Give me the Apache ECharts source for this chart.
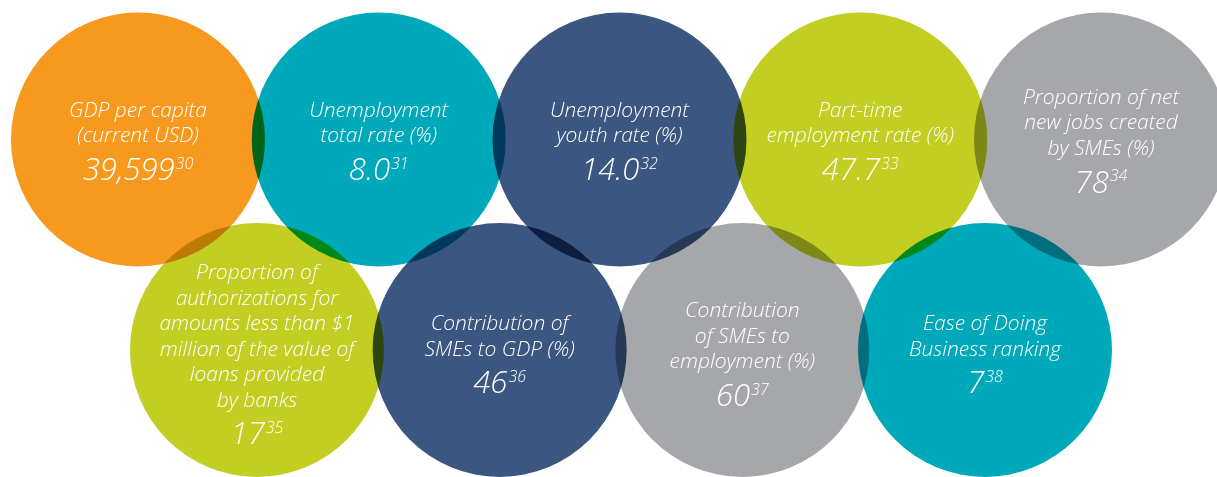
<!DOCTYPE html>
<html>
<head>
<meta charset="utf-8">
<script src="https://cdn.jsdelivr.net/npm/echarts@6/dist/echarts.min.js"></script>
<style>
html,body{margin:0;padding:0;background:#ffffff;}
#chart{width:1217px;height:477px;}
</style>
</head>
<body>
<div id="chart"></div>
<script>
// ---- data ----
const indicators = [
  "GDP per capita\n(current USD)",
  "Unemployment\ntotal rate (%)",
  "Unemployment\nyouth rate (%)",
  "Part-time\nemployment rate (%)",
  "Proportion of net\nnew jobs created\nby SMEs (%)",
  "Proportion of\nauthorizations for\namounts less than $1\nmillion of the value of\nloans provided\nby banks",
  "Contribution of\nSMEs to GDP (%)",
  "Contribution\nof SMEs to\nemployment (%)",
  "Ease of Doing\nBusiness ranking"
];
const values = ["39,599", "8.0", "14.0", "47.7", "78", "17", "46", "60", "7"];
const footnotes = ["30", "31", "32", "33", "34", "35", "36", "37", "38"];
const topRow = [0, 1, 2, 3, 4];      // indicator indices in upper row
const bottomRow = [5, 6, 7, 8];      // indicator indices in lower row

// ---- styles ----
const colors = ['#f7981f', '#00a9ba', '#3b5680', '#c2cf22', '#a6a7ab',
                '#c2cf22', '#3b5680', '#a6a7ab', '#00a9ba'];
const FONT = '"Open Sans", "Noto Sans", sans-serif';
const RADIUS = 127;

function rowData(idx) {
  return idx.map((k, j) => [j, 0.5, k]);
}

function circleItem(params, api) {
  const p = api.coord([api.value(0), api.value(1)]);
  const k = api.value(2);
  return {
    type: 'circle',
    shape: { cx: p[0], cy: p[1], r: RADIUS },
    style: { fill: colors[k] }
  };
}

function labelItem(dy) {
  return function (params, api) {
    const p = api.coord([api.value(0), api.value(1)]);
    const k = api.value(2);
    return {
      type: 'text',
      x: p[0],
      y: p[1] + dy,
      style: {
        text: indicators[k] + '\n{v|' + values[k] + '}{s|' + footnotes[k] + '}',
        fill: '#ffffff',
        fontFamily: FONT,
        fontStyle: 'italic',
        fontWeight: 300,
        fontSize: 21,
        lineHeight: 25.5,
        align: 'center',
        verticalAlign: 'middle',
        rich: {
          v: { fontFamily: FONT, fontStyle: 'italic', fontWeight: 300, fontSize: 31, lineHeight: 44, fill: '#ffffff' },
          s: { fontFamily: FONT, fontStyle: 'italic', fontWeight: 300, fontSize: 16, lineHeight: 16, verticalAlign: 'top', padding: [7, 0, 0, 1], fill: '#ffffff' }
        }
      }
    };
  };
}

const chart = echarts.init(document.getElementById('chart'), null, { renderer: 'canvas' });
const hiddenAxis = { show: false };
chart.setOption({
  backgroundColor: '#ffffff',
  animation: false,
  grid: [
    { left: 138, right: 116, top: 89.5, height: 100 },
    { left: 257, right: 232, top: 300, height: 100 }
  ],
  xAxis: [
    Object.assign({ type: 'value', gridIndex: 0, min: 0, max: topRow.length - 1 }, hiddenAxis),
    Object.assign({ type: 'value', gridIndex: 1, min: 0, max: bottomRow.length - 1 }, hiddenAxis)
  ],
  yAxis: [
    Object.assign({ type: 'value', gridIndex: 0, min: 0, max: 1 }, hiddenAxis),
    Object.assign({ type: 'value', gridIndex: 1, min: 0, max: 1 }, hiddenAxis)
  ],
  series: [
    { type: 'custom', xAxisIndex: 0, yAxisIndex: 0, z: 1, silent: true, blendMode: 'multiply', data: rowData(topRow), renderItem: circleItem },
    { type: 'custom', xAxisIndex: 1, yAxisIndex: 1, z: 1, silent: true, blendMode: 'multiply', data: rowData(bottomRow), renderItem: circleItem },
    { type: 'custom', xAxisIndex: 0, yAxisIndex: 0, z: 5, silent: true, data: rowData(topRow), renderItem: labelItem(6) },
    { type: 'custom', xAxisIndex: 1, yAxisIndex: 1, z: 5, silent: true, data: rowData(bottomRow), renderItem: labelItem(9) }
  ]
});
</script>
</body>
</html>
